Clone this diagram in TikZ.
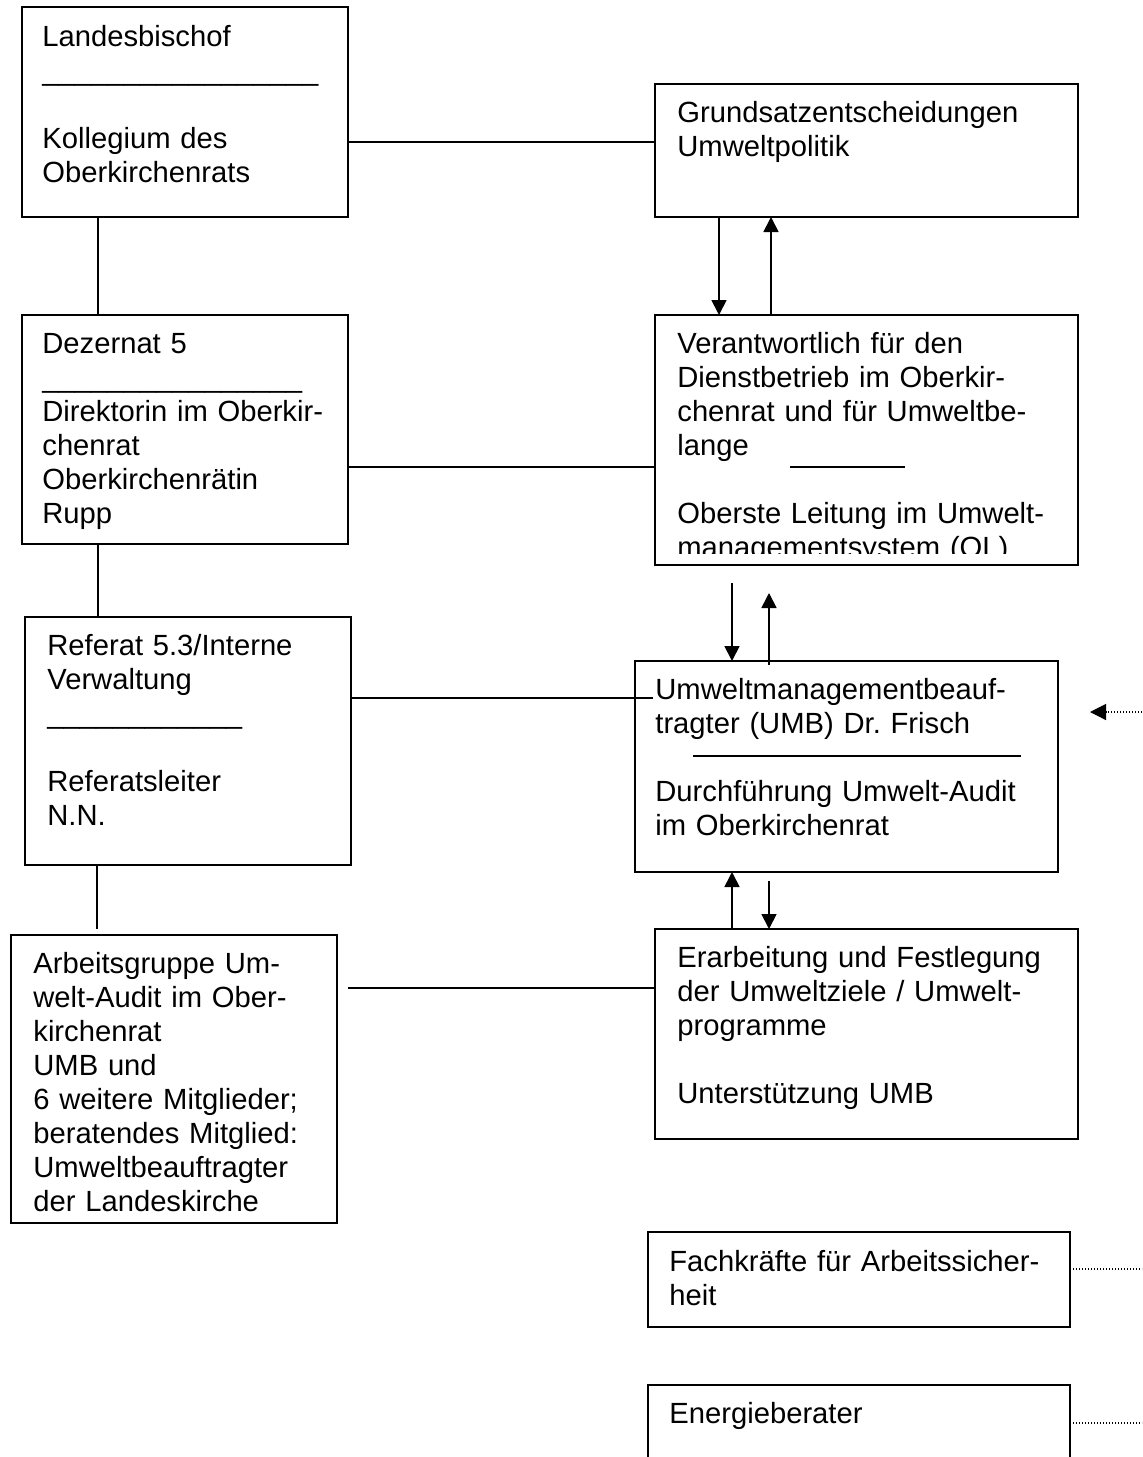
\documentclass[tikz,border=0pt]{standalone}
\usepackage{fontspec}
\setmainfont{Liberation Sans}
\usetikzlibrary{arrows.meta}
\frenchspacing

\begin{document}
\begin{tikzpicture}[x=0.5pt, y=-0.5pt,
    box/.style={draw, line width=0.9pt, inner sep=0, outer sep=0, anchor=north west},
    txt/.style={anchor=north west, inner sep=0, align=left, text width=200pt, font=\fontsize{14.6}{17}\selectfont},
    link/.style={line width=0.9pt},
    arr/.style={line width=0.9pt, -{Triangle[length=7.5pt, width=7.5pt]}},
    dots/.style={line width=0.6pt, dash pattern=on 0.6pt off 0.9pt}]

    \clip (0, 0) rectangle (1142, 1457);
    \fill [white] (0, 0) rectangle (1142, 1457);

    \node [box, minimum width=163pt, minimum height=105pt] (bischof) at (22, 7) {};
    \node [box, minimum width=211.5pt, minimum height=66.5pt] (grundsatz) at (655, 84) {};
    \node [box, minimum width=163pt, minimum height=114.5pt] (dezernat) at (22, 315) {};
    \node [box, minimum width=211.5pt, minimum height=125pt] (leitung) at (655, 315) {};
    \node [box, minimum width=163pt, minimum height=124pt] (referat) at (25, 617) {};
    \node [box, minimum width=211.5pt, minimum height=105.5pt] (umb) at (635, 661) {};
    \node [box, minimum width=163pt, minimum height=144pt] (gruppe) at (11, 935) {};
    \node [box, minimum width=211.5pt, minimum height=105pt] (ziele) at (655, 929) {};
    \node [box, minimum width=211pt, minimum height=47.5pt] (fachkraefte) at (648, 1232) {};
    \node [box, minimum width=211pt, minimum height=60pt] (energie) at (648, 1385) {};

    \node [txt] (bischoftext) at (42, 22) {\strut Landesbischof\\
      \_\_\_\_\_\_\_\_\_\_\_\_\_\_\_\_\_\\[17pt]
      Kollegium des\\ Oberkirchenrats};
    \node [txt] (grundsatztext) at (677, 98) {\strut Grundsatzentscheidungen\\ Umweltpolitik};
    \node [txt] (dezernattext) at (42, 329) {\strut Dezernat 5\\
      \_\_\_\_\_\_\_\_\_\_\_\_\_\_\_\_\\
      Direktorin im Oberkir-\\ chenrat\\ Oberkirchenrätin\\ Rupp};
    \begin{scope}
      \clip (leitung.north west) rectangle ([yshift=6pt]leitung.south east);
      \node [txt] (leitungtext) at (677, 329) {\strut Verantwortlich für den\\
        Dienstbetrieb im Oberkir-\\ chenrat und für Umweltbe-\\ lange\\[17pt]
        Oberste Leitung im Umwelt-\\ managementsystem (OL)};
    \end{scope}
    \node [txt] (referattext) at (47, 631) {\strut Referat 5.3/Interne\\ Verwaltung\\
      \_\_\_\_\_\_\_\_\_\_\_\_\\[17pt]
      Referatsleiter\\ N.N.};
    \node [txt] (umbtext) at (655, 675) {\strut Umweltmanagementbeauf-\\
      tragter (UMB) Dr. Frisch\\[17pt]
      Durchführung Umwelt-Audit\\ im Oberkirchenrat};
    \node [txt] (gruppetext) at (33, 949) {\strut Arbeitsgruppe Um-\\ welt-Audit im Ober-\\
      kirchenrat\\ UMB und\\ 6 weitere Mitglieder;\\ beratendes Mitglied:\\
      Umweltbeauftragter\\ der Landeskirche};
    \node [txt] (zieletext) at (677, 943) {\strut Erarbeitung und Festlegung\\
      der Umweltziele / Umwelt-\\ programme\\[17pt]
      Unterstützung UMB};
    \node [txt] (fachkraeftetext) at (669, 1247) {\strut Fachkräfte für Arbeitssicher-\\ heit};
    \node [txt] (energietext) at (669, 1399) {\strut Energieberater};

    \draw [link] (790, 467) to (905, 467);
    \draw [link] (693, 756) to (1021, 756);

    \coordinate (gruppeend) at (348, 988);
    \coordinate (umbin) at (653, 698);
    \coordinate (referatend) at (97, 929);
    \coordinate (leitungout) at (732, 583);
    \coordinate (leitungin) at (769, 593);
    \coordinate (umbout) at (769, 881);
    \coordinate (extern) at (1142, 712);
    \coordinate (umbtip) at (1090, 712);
    \coordinate (fachkraefteend) at (1142, 1269);
    \coordinate (energieend) at (1142, 1423);

    \draw [link] (bischof.east |- 0, 142) to (grundsatz.west |- 0, 142);
    \draw [link] (bischof.south -| 98, 0) to (dezernat.north -| 98, 0);
    \draw [link] (dezernat.east |- 0, 467) to (leitung.west |- 0, 467);
    \draw [link] (dezernat.south -| 98, 0) to (referat.north -| 98, 0);
    \draw [link] (referat.east |- umbin) to (umbin);
    \draw [link] (referat.south -| referatend) to (referatend);
    \draw [link] (gruppeend) to (ziele.west |- gruppeend);

    \draw [arr] (grundsatz.south -| 719, 0) to (leitung.north -| 719, 0);
    \draw [arr] (leitung.north -| 771, 0) to (grundsatz.south -| 771, 0);
    \draw [arr] (leitungout) to (umb.north -| leitungout);
    \draw [arr] ([yshift=-2pt]umb.north -| leitungin) to (leitungin);
    \draw [arr] (ziele.north -| leitungout) to (umb.south -| leitungout);
    \draw [arr] (umbout) to (ziele.north -| umbout);

    \draw [dots, -{Triangle[length=8pt, width=8pt]}] (extern) to (umbtip);
    \draw [dots] (fachkraefte.east |- fachkraefteend) to (fachkraefteend);
    \draw [dots] (energie.east |- energieend) to (energieend);

  \end{tikzpicture}
\end{document}
